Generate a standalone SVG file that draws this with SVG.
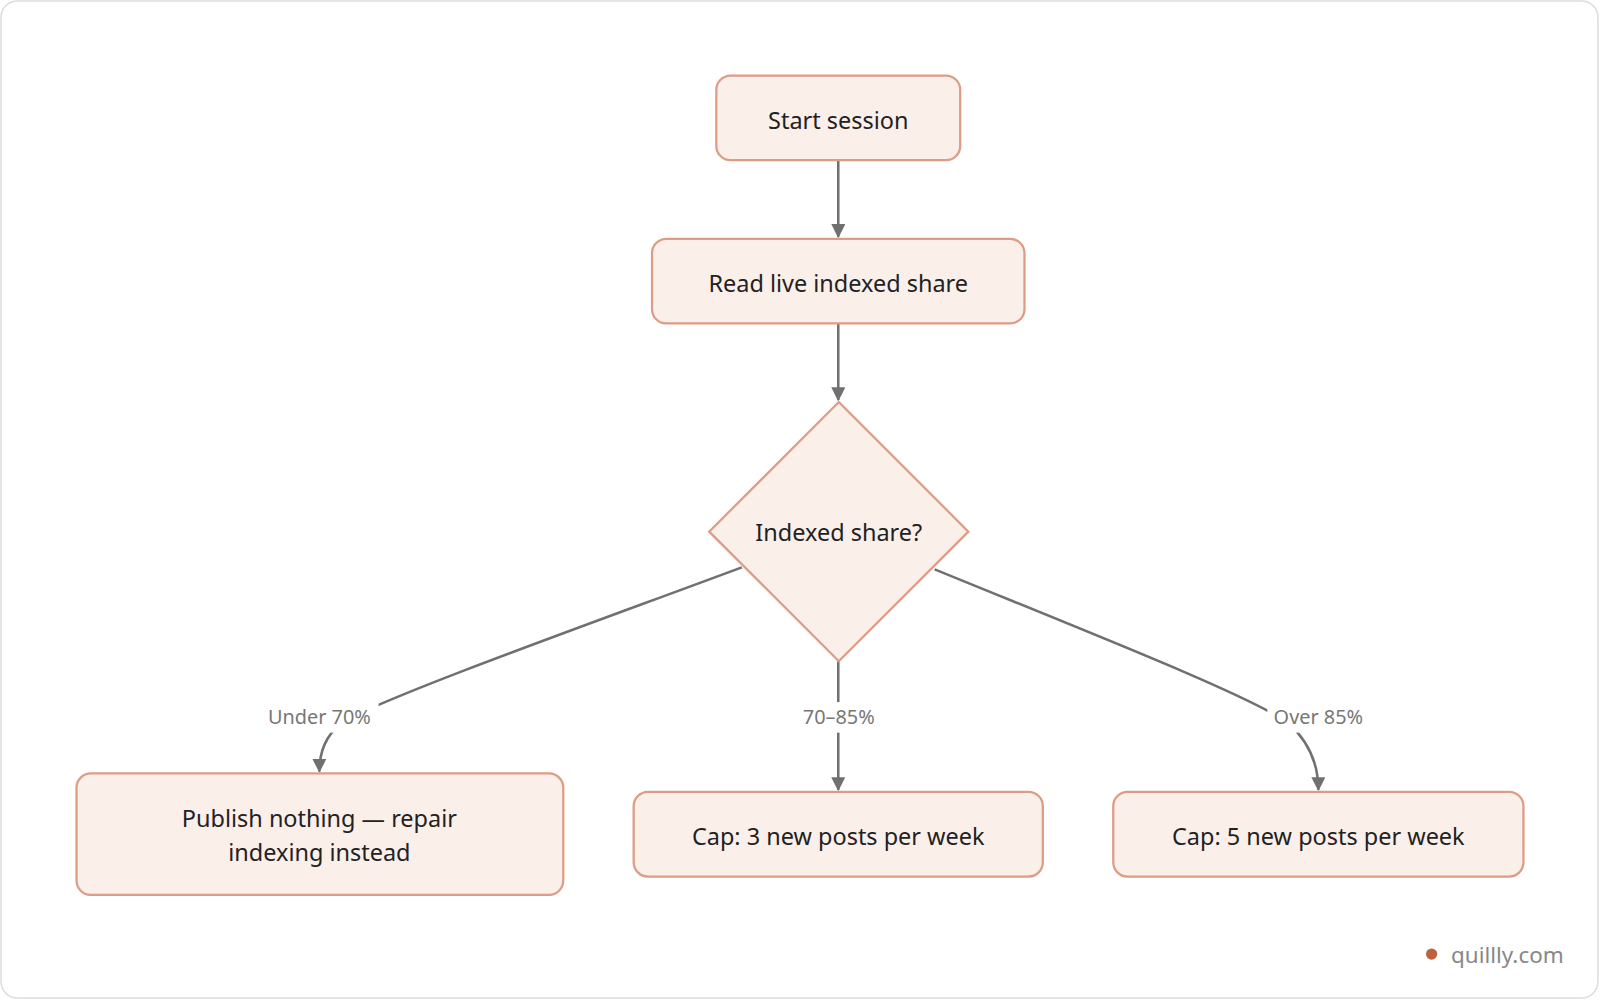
<svg xmlns="http://www.w3.org/2000/svg" width="1600" height="1000" viewBox="0 0 1600 1000">
<style>
.n{fill:#fbefea;stroke:#dc9c86;stroke-width:2.2}
.t{font-family:"Noto Sans","Open Sans",sans-serif;font-size:23px;fill:#222;text-anchor:middle}
.l{font-family:"Noto Sans","Open Sans",sans-serif;font-size:19.5px;fill:#777;text-anchor:middle}
.e{fill:none;stroke:#707070;stroke-width:2.5}
</style>
<defs><marker id="a" viewBox="0 0 10 10" refX="9" refY="5" markerWidth="5.5" markerHeight="5.5" orient="auto-start-reverse" markerUnits="strokeWidth"><path d="M0,0L10,5L0,10z" fill="#707070"/></marker></defs>
<rect width="1600" height="1000" fill="#fff"/>
<g transform="scale(1.0204)">
<rect x="1" y="1" width="1565" height="977" rx="16" fill="#fff" stroke="#ddd" stroke-width="1.5"/>
<g id="edges">
<path class="e" d="M821.5,157V232" marker-end="url(#a)"/>
<path class="e" d="M821.5,317V392" marker-end="url(#a)"/>
<path class="e" d="M821.5,648V774" marker-end="url(#a)"/>
<path class="e" d="M727,556C560,618 400,675 340,705Q313,722 313,756" marker-end="url(#a)"/>
<path class="e" d="M916,558C1080,625 1220,680 1262,708Q1292,735 1292,774" marker-end="url(#a)"/>
<rect x="255" y="688" width="116" height="30" fill="#fff"/>
<rect x="780" y="688" width="84" height="30" fill="#fff"/>
<rect x="1242" y="688" width="100" height="30" fill="#fff"/>
<text class="l" x="313" y="710">Under 70%</text>
<text class="l" x="822" y="710">70–85%</text>
<text class="l" x="1292" y="710">Over 85%</text>
</g>
<g id="start"><rect class="n" x="702" y="74" width="239" height="83" rx="14"/><text class="t" x="821.5" y="126">Start session</text></g>
<g id="read"><rect class="n" x="639" y="234" width="365" height="83" rx="14"/><text class="t" x="821.5" y="286">Read live indexed share</text></g>
<g id="decision"><path class="n" d="M822,394L949,521L822,648L695,521Z"/><text class="t" x="822" y="530">Indexed share?</text></g>
<g id="publish"><rect class="n" x="75" y="758" width="477" height="119" rx="14"/><text class="t" x="313" y="810">Publish nothing — repair</text><text class="t" x="313" y="844">indexing instead</text></g>
<g id="cap3"><rect class="n" x="621" y="776" width="401" height="83" rx="14"/><text class="t" x="821.5" y="828">Cap: 3 new posts per week</text></g>
<g id="cap5"><rect class="n" x="1091" y="776" width="402" height="83" rx="14"/><text class="t" x="1292" y="828">Cap: 5 new posts per week</text></g>
<g id="brand"><circle cx="1403" cy="935" r="5.5" fill="#c0603e"/><text x="1422" y="944" font-family="Noto Sans,sans-serif" font-size="22" fill="#888">quillly.com</text></g>
</g>
</svg>
